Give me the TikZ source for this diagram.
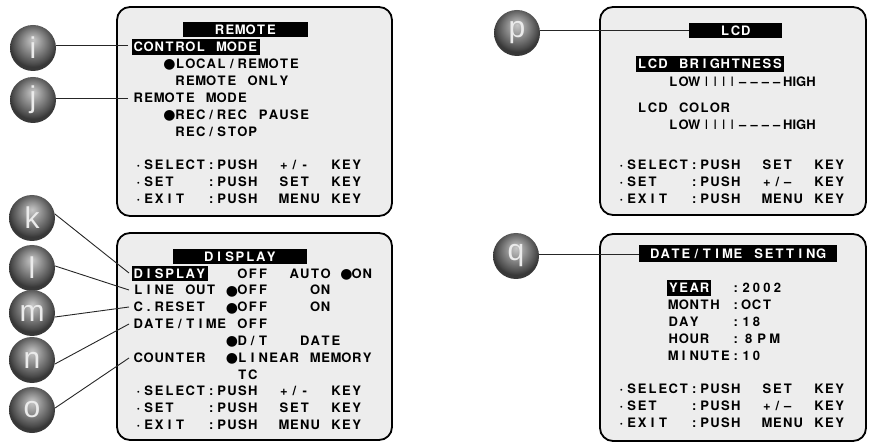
\documentclass[tikz,border=0pt]{standalone}
\usepackage{fontspec}
\setmainfont{TeX Gyre Heros}
\newfontfamily\symfont{DejaVu Sans}
\newfontfamily\ballfont{Liberation Sans}
\newcommand\osdfont{\fontsize{13}{15}\selectfont\bfseries}
\newcommand\osdmdfont{\fontsize{13}{15}\selectfont\mdseries}
\ExplSyntaxOn
\dim_new:N \l_osd_cell_dim
\NewDocumentCommand \grid { O{10.4pt} m }
  {
    \dim_set:Nn \l_osd_cell_dim {#1}
    \str_map_inline:nn {#2}
      {
        \str_case:nnF {##1}
          {
            {●}{ \makebox[\l_osd_cell_dim][c]{\raisebox{-0.4pt}{\symfont\fontsize{14}{14}\selectfont ●}} }
            {_}{ \makebox[\l_osd_cell_dim][c]{} }
          }
          { \makebox[\l_osd_cell_dim][c]{##1} }
      }
  }
\ExplSyntaxOff
\pgfdeclareradialshading{sphere}{\pgfpoint{0bp}{9bp}}{color(0bp)=(black!22); color(5bp)=(black!32); color(15bp)=(black!54); color(22bp)=(black!70); color(25bp)=(black!78); color(50bp)=(black!78)}
\begin{document}
\begin{tikzpicture}[x=1pt,y=-1pt,
  scr/.style={draw=black, line width=1.8pt, fill=black!7, rounded corners=13pt, inner sep=0pt},
  osd/.style={anchor=west, inner sep=0pt, text height=9.3pt, text depth=0pt, font=\osdfont},
  hl/.style={osd, fill=black, text=white, inner xsep=1.5pt, inner ysep=3.2pt},
  titlebar/.style={fill=black, text=white, inner sep=0pt, text height=9.3pt, text depth=0pt, font=\osdfont},
  ball/.style={circle, minimum size=46pt, inner sep=0pt, shading=sphere, text=white!92!black, font=\ballfont\fontsize{30}{30}\selectfont},
  conn/.style={draw=black!85, line width=0.9pt}
]
\useasboundingbox (0,0) rectangle (869,443);
% screens
\node[scr, minimum width=275pt, minimum height=209pt] (b1) at (254.5,111.5) {};
\node[scr, minimum width=275pt, minimum height=207pt] (b2) at (254.5,336.5) {};
\node[scr, minimum width=266pt, minimum height=208pt] (b3) at (733,111) {};
\node[scr, minimum width=266pt, minimum height=207pt] (b4) at (733,337.5) {};
% title bars
\node[titlebar, minimum width=125pt, minimum height=15pt] (bar1) at (245.5,30) {\grid{REMOTE}};
\node[titlebar, minimum width=134pt, minimum height=15pt] (bar2) at (240,256.5) {\grid{DISPLAY}};
\node[titlebar, minimum width=93pt, minimum height=15pt] (bar3) at (735.5,30.5) {\grid{LCD}};
\node[titlebar, minimum width=198pt, minimum height=17pt] (bar4) at (738,254) {\grid{DATE/TIME_SETTING}};
% screen 1: REMOTE
\node[hl] (r1a) at (131.5,46.9) {\grid{CONTROL_MODE}};
\node[osd] (r1b) at (164.2,63.8) {\grid{●LOCAL/REMOTE}};
\node[osd] (r1c) at (174.6,80.7) {\grid{REMOTE_ONLY}};
\node[osd] (r1d) at (133,97.6) {\grid{REMOTE_MODE}};
\node[osd] (r1e) at (164.2,114.5) {\grid{●REC/REC_PAUSE}};
\node[osd] (r1f) at (174.6,131.4) {\grid{REC/STOP}};
\node[osd] (r1g) at (133,165.2) {\grid{·SELECT:PUSH__+/-__KEY}};
\node[osd] (r1h) at (133,182.1) {\grid{·SET___:PUSH__SET__KEY}};
\node[osd] (r1i) at (133,199) {\grid{·EXIT__:PUSH__MENU_KEY}};
% screen 2: DISPLAY
\node[hl] (r2a) at (131.5,273.4) {\grid{DISPLAY}};
\node[osd] (r2b) at (237,273.4) {\grid{OFF__AUTO_●ON}};
\node[osd] (r2c) at (133,290.2) {\grid{LINE_OUT_●OFF____ON}};
\node[osd] (r2d) at (133,307.1) {\grid{C.RESET__●OFF____ON}};
\node[osd] (r2e) at (133,323.9) {\grid{DATE/TIME_OFF}};
\node[osd] (r2f) at (226.6,340.8) {\grid{●D/T___DATE}};
\node[osd] (r2g) at (133,357.6) {\grid{COUNTER__●LINEAR_MEMORY}};
\node[osd] (r2h) at (237,374.5) {\grid{TC}};
\node[osd] (r2i) at (133,391.3) {\grid{·SELECT:PUSH__+/-__KEY}};
\node[osd] (r2j) at (133,408.2) {\grid{·SET___:PUSH__SET__KEY}};
\node[osd] (r2k) at (133,425) {\grid{·EXIT__:PUSH__MENU_KEY}};
% screen 3: LCD
\node[hl] (r3a) at (635.3,64.3) {\grid{LCD_BRIGHTNESS}};
\node[osd] (r3b) at (668,81.5) {\grid{LOW}};
\node[osd, font=\osdmdfont] (r3c) at (702,81.5) {\grid[8.6pt]{IIII}};
\node[osd] (r3d) at (737,81.5) {\grid[11.3pt]{––––}};
\node[osd] (r3e) at (783,81.5) {HIGH};
\node[osd] (r3f) at (636.8,108) {\grid{LCD_COLOR}};
\node[osd] (r3g) at (668,125.3) {\grid{LOW}};
\node[osd, font=\osdmdfont] (r3h) at (702,125.3) {\grid[8.6pt]{IIII}};
\node[osd] (r3i) at (737,125.3) {\grid[11.3pt]{––––}};
\node[osd] (r3j) at (783,125.3) {HIGH};
\node[osd] (r3k) at (616,165.2) {\grid{·SELECT:PUSH__SET__KEY}};
\node[osd] (r3l) at (616,182.1) {\grid{·SET___:PUSH__+/–__KEY}};
\node[osd] (r3m) at (616,199) {\grid{·EXIT__:PUSH__MENU_KEY}};
% screen 4: DATE/TIME
\node[hl] (r4a) at (666.5,287.8) {\grid{YEAR}};
\node[osd] (r4b) at (730.4,287.8) {\grid{:2002}};
\node[osd] (r4c) at (668,304.7) {\grid{MONTH_:OCT}};
\node[osd] (r4d) at (668,321.6) {\grid{DAY___:18}};
\node[osd] (r4e) at (668,338.5) {\grid{HOUR__:}};
\node[osd] (r4f) at (742,338.5) {\grid[13pt]{8PM}};
\node[osd] (r4g) at (668,355.4) {\grid{MINUTE:10}};
\node[osd] (r4h) at (616,389.2) {\grid{·SELECT:PUSH__SET__KEY}};
\node[osd] (r4i) at (616,406.1) {\grid{·SET___:PUSH__+/–__KEY}};
\node[osd] (r4j) at (616,423) {\grid{·EXIT__:PUSH__MENU_KEY}};
% callout balls
\node[ball] (i) at (33,48) {i};
\node[ball] (j) at (33,100) {j};
\node[ball] (k) at (32,218) {k};
\node[ball] (l) at (32,268) {l};
\node[ball] (m) at (32,313) {m};
\node[ball] (n) at (32,360) {n};
\node[ball] (o) at (32,410) {o};
\node[ball] (p) at (517,33) {p};
\node[ball] (q) at (516,256) {q};
% connector ends
\coordinate (ei) at (128,45);
\coordinate (ej) at (128,98);
\coordinate (ek) at (129,273);
\coordinate (el) at (129,290);
\coordinate (em) at (129,307);
\coordinate (en) at (129,324);
\coordinate (eo) at (129,358);
\draw[conn] (ei) -- (ei -| i.east);
\draw[conn] (ej) -- (ej -| j.east);
\draw[conn] (k.10) -- (ek);
\draw[conn] (l.5) -- (el);
\draw[conn] (m.-10) -- (em);
\draw[conn] (n.-10) -- (en);
\draw[conn] (o.5) -- (eo);
\draw[conn] (bar3.west) -- (bar3.west -| p.east);
\draw[conn] (bar4.west) -- (bar4.west -| q.east);
\end{tikzpicture}
\end{document}
